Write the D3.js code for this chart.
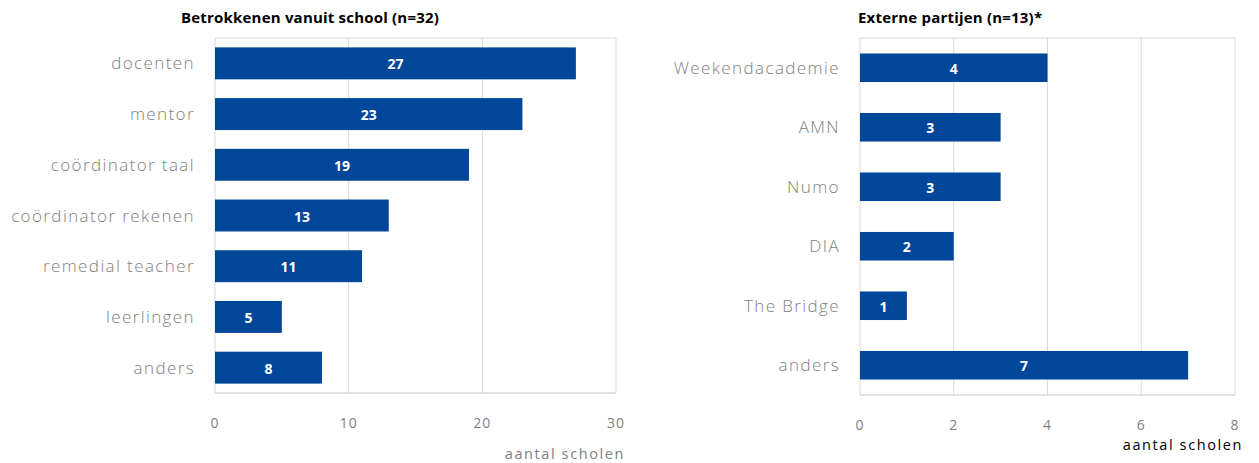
<!DOCTYPE html>
<html><head><meta charset="utf-8">
<script src="https://cdn.jsdelivr.net/npm/d3@7"></script>
<style>
body{margin:0;background:#fff;}
text{font-family:"Open Sans","DejaVu Sans",sans-serif;}
</style></head>
<body><svg id="c" width="1259" height="463"></svg>
<script>
const schoolCategories = ["docenten","mentor","coördinator taal","coördinator rekenen","remedial teacher","leerlingen","anders"];
const schoolValues = [27,23,19,13,11,5,8];
const schoolTicks = [0,10,20,30];
const externCategories = ["Weekendacademie","AMN","Numo","DIA","The Bridge","anders"];
const externValues = [4,3,3,2,1,7];
const externTicks = [0,2,4,6,8];

const svg = d3.select("#c");
const barColor = "#00479a";
const gridColor = "#d9d9d9";
const labelColor = "#808080";

function panel(o){
  const g = svg.append("g");
  const x = d3.scaleLinear().domain([0, o.max]).range([o.x0, o.x1]);
  const y = d3.scaleBand().domain(o.cats).range([o.y0, o.y1]).paddingInner(o.pad).paddingOuter(o.pad/2);
  g.selectAll(".grid").data(o.ticks).enter().append("line")
    .attr("x1", d=>x(d)).attr("x2", d=>x(d)).attr("y1", o.y0).attr("y2", o.y1)
    .attr("stroke", gridColor).attr("stroke-width", 1);
  g.append("line").attr("x1", o.x0).attr("x2", o.x1).attr("y1", o.y0).attr("y2", o.y0).attr("stroke", gridColor);
  g.append("line").attr("x1", o.x0).attr("x2", o.x1).attr("y1", o.y1).attr("y2", o.y1).attr("stroke", gridColor).attr("stroke-width",1.5);
  g.selectAll(".bar").data(o.vals).enter().append("rect")
    .attr("x", x(0)).attr("y", (d,i)=>y(o.cats[i]))
    .attr("width", d=>x(d)-x(0)).attr("height", y.bandwidth())
    .attr("fill", barColor);
  g.selectAll(".val").data(o.vals).enter().append("text")
    .attr("x", d=>(x(0)+x(d))/2).attr("y", (d,i)=>y(o.cats[i])+y.bandwidth()/2+6)
    .attr("text-anchor","middle").attr("fill","#fff").attr("font-weight","bold").attr("font-size",14)
    .text(d=>d);
  g.selectAll(".cat").data(o.cats).enter().append("text")
    .attr("x", o.x0-20).attr("y", d=>y(d)+y.bandwidth()/2+6)
    .attr("text-anchor","end").attr("fill",labelColor).attr("font-size",17).attr("font-weight",300)
    .attr("letter-spacing",1.4)
    .text(d=>d);
  g.selectAll(".tick").data(o.ticks).enter().append("text")
    .attr("x", d=>x(d)).attr("y", o.y1+35)
    .attr("text-anchor","middle").attr("fill",labelColor).attr("font-size",14).attr("letter-spacing",1)
    .text(d=>d);
  g.append("text").attr("x", o.axX).attr("y", o.axY).attr("text-anchor","end")
    .attr("fill", o.axColor).attr("font-size",14.5).attr("letter-spacing",1.6).text("aantal scholen");
  g.append("text").attr("x", o.tx).attr("y", 23).attr("fill","#000").attr("font-size",15).attr("font-weight","bold")
    .attr("letter-spacing",0.2)
    .text(o.title);
}

panel({cats:schoolCategories, vals:schoolValues, ticks:schoolTicks, max:30,
  x0:215, x1:616, y0:38, y1:393, pad:0.37, axX:625, axY:459, axColor:"#808080",
  tx:181, title:"Betrokkenen vanuit school (n=32)"});
panel({cats:externCategories, vals:externValues, ticks:externTicks, max:8,
  x0:860, x1:1235, y0:38, y1:395, pad:0.52, axX:1243, axY:450, axColor:"#000",
  tx:858, title:"Externe partijen (n=13)*"});
</script></body></html>
